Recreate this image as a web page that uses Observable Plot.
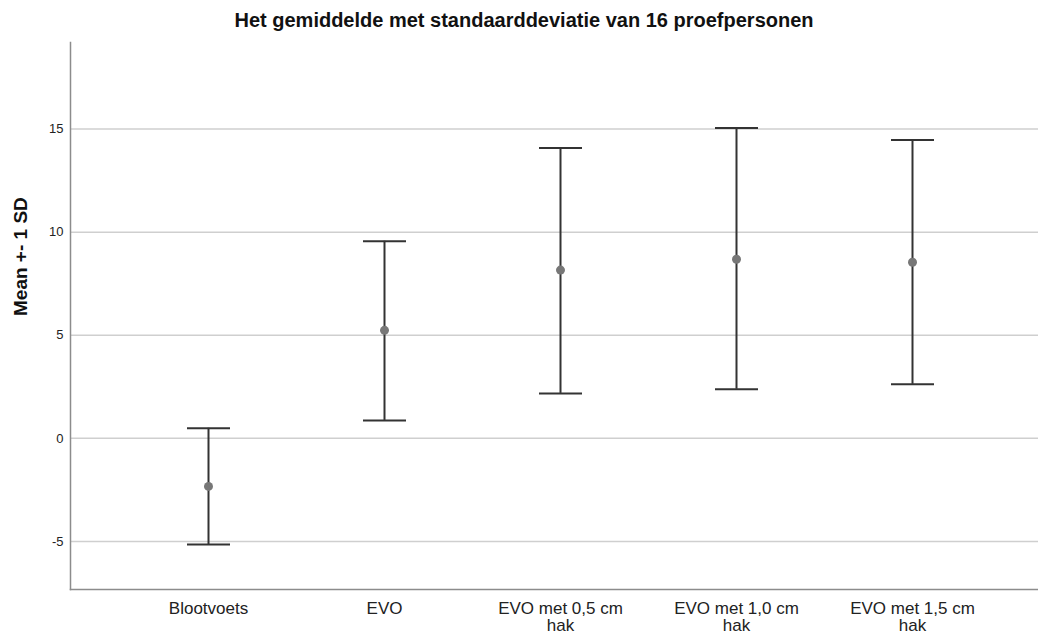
<!DOCTYPE html>
<html>
<head>
<meta charset="utf-8">
<script src="https://cdn.jsdelivr.net/npm/d3@7"></script>
<script src="https://cdn.jsdelivr.net/npm/@observablehq/plot@0.6"></script>
<style>
  html, body { margin: 0; padding: 0; background: #fff; }
  body { width: 1038px; height: 636px; overflow: hidden; font-family: "Liberation Sans", Arial, sans-serif; }
  #title { height: 40px; line-height: 40px; font-size: 20px; font-weight: bold; text-align: center; color: #111; padding-left: 10px; box-sizing: border-box; width: 1038px; }
</style>
</head>
<body>
<div id="title">Het gemiddelde met standaarddeviatie van 16 proefpersonen</div>
<div id="chart"></div>
<script>
const categories = ["Blootvoets", "EVO", "EVO met 0,5 cm hak", "EVO met 1,0 cm hak", "EVO met 1,5 cm hak"];
const tickLabels = ["Blootvoets", "EVO", "EVO met 0,5 cm\nhak", "EVO met 1,0 cm\nhak", "EVO met 1,5 cm\nhak"];
const means = [-2.33, 5.24, 8.16, 8.69, 8.54];
const lower = [-5.15, 0.87, 2.18, 2.38, 2.62];
const upper = [0.49, 9.56, 14.08, 15.05, 14.47];
const yTicks = [-5, 0, 5, 10, 15];
const yDomain = [-7.33, 19.2];

const data = categories.map((c, i) => ({cat: c, label: tickLabels[i], mean: means[i], lo: lower[i], hi: upper[i]}));

const capSymbol = {
  draw(context) {
    context.moveTo(-21.5, 0);
    context.lineTo(21.5, 0);
  }
};

const chart = Plot.plot({
  width: 1038,
  height: 596,
  marginTop: 2,
  marginBottom: 47,
  marginLeft: 70,
  marginRight: 0,
  style: {fontFamily: "'Liberation Sans', Arial, sans-serif", background: "#fff", color: "#222"},
  x: {type: "point", domain: categories, padding: 0, insetLeft: 138, insetRight: 126, axis: null},
  y: {domain: yDomain, axis: null},
  marks: [
    Plot.ruleY(yTicks, {stroke: "#cfcfcf", strokeWidth: 1.5}),
    Plot.axisY(yTicks, {tickSize: 0, tickPadding: 7, fontSize: 13, fill: "#222", label: null, tickFormat: (d) => String(d)}),
    Plot.text(["Mean +- 1 SD"], {frameAnchor: "left", rotate: -90, dx: -50, fontSize: 19, fontWeight: "bold", fill: "#111"}),
    Plot.frame({anchor: "left", stroke: "#8c8c8c", strokeWidth: 1.5}),
    Plot.frame({anchor: "bottom", stroke: "#8c8c8c", strokeWidth: 1.5}),
    Plot.ruleX(data, {x: "cat", y1: "lo", y2: "hi", stroke: "#333", strokeWidth: 2}),
    Plot.dot(data, {x: "cat", y: "hi", symbol: capSymbol, stroke: "#333", strokeWidth: 2, r: 5}),
    Plot.dot(data, {x: "cat", y: "lo", symbol: capSymbol, stroke: "#333", strokeWidth: 2, r: 5}),
    Plot.dot(data, {x: "cat", y: "mean", r: 4.5, fill: "#777", stroke: "none"}),
    Plot.text(data, {x: "cat", text: "label", frameAnchor: "bottom", lineAnchor: "top", dy: 12, fontSize: 17, lineHeight: 1.0, fill: "#222"})
  ]
});
document.getElementById("chart").appendChild(chart);
</script>
</body>
</html>
